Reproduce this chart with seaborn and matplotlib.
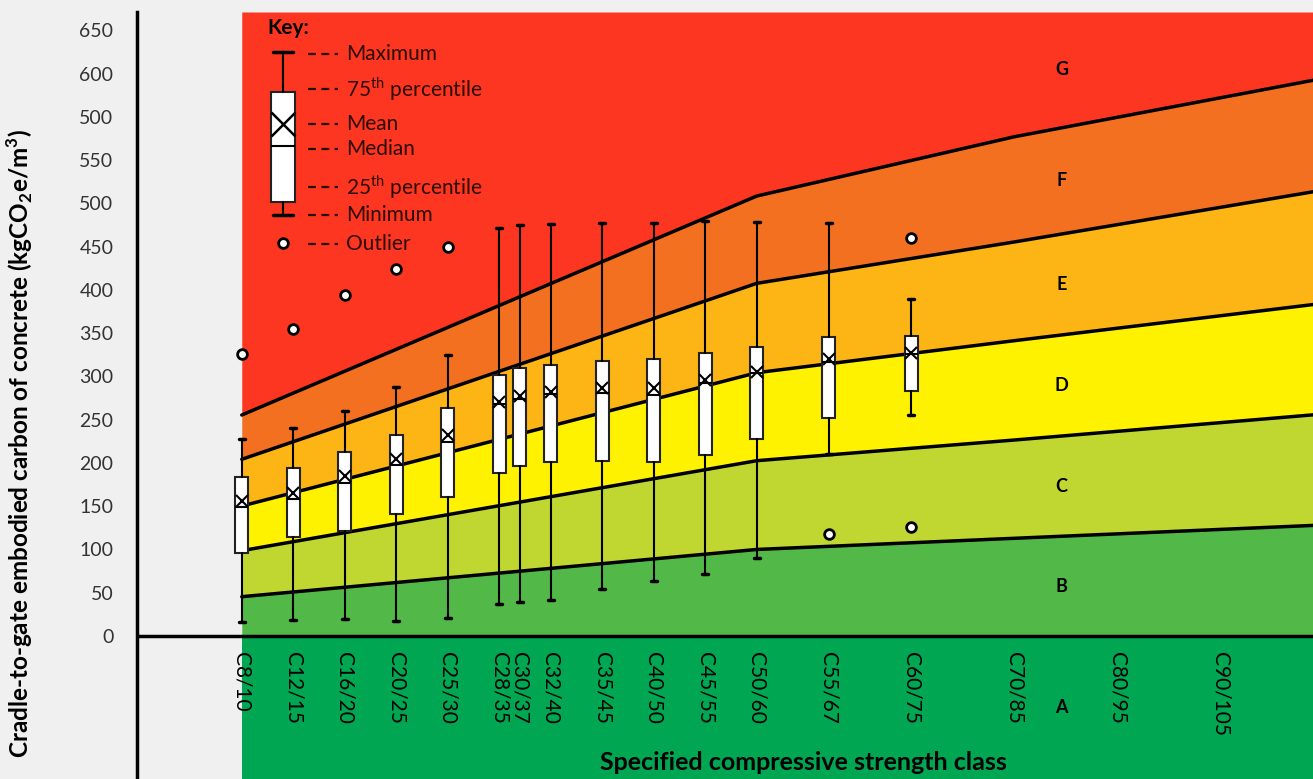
import numpy as np
import matplotlib.pyplot as plt
import seaborn as sns

# strength classes, x position taken from the cube strength
classes = ['C8/10', 'C12/15', 'C16/20', 'C20/25', 'C25/30', 'C28/35', 'C30/37',
           'C32/40', 'C35/45', 'C40/50', 'C45/55', 'C50/60', 'C55/67', 'C60/75',
           'C70/85', 'C80/95', 'C90/105', 'C100/115']
cube = [10, 15, 20, 25, 30, 35, 37, 40, 45, 50, 55, 60, 67, 75, 85, 95, 105, 115]

# box summaries (only first 14 classes have data)
whislo = [16.5, 18.5, 19.6, 17.3, 20.5, 37.0, 39.3, 41.6, 54.7, 63.6, 72.0, 89.8, 210.3, 255.1]
q1 = [96.3, 114.1, 121.3, 140.6, 161.0, 188.0, 196.5, 201.1, 202.6, 201.1, 209.2, 227.3, 251.9, 283.5]
med = [149.4, 158.0, 176.5, 197.6, 224.6, 268.1, 273.6, 279.7, 281.2, 278.2, 292.7, 303.6, 317.0, 325.9]
mean = [156.0, 164.9, 184.9, 204.2, 232.3, 270.8, 277.4, 282.3, 286.3, 286.3, 295.9, 305.5, 319.8, 327.4]
q3 = [183.4, 193.8, 213.0, 232.3, 263.2, 301.6, 309.4, 313.2, 318.2, 319.8, 327.4, 334.3, 345.9, 346.7]
whishi = [227.3, 240.4, 260.0, 288.1, 325.1, 471.9, 475.0, 476.1, 476.9, 476.9, 479.3, 478.5, 477.7, 389.1]
outliers = [[325.9], [355.1], [394.4], [424.1], [449.9], [], [], [], [], [], [], [],
            [117.5], [126.3, 459.6]]

# rating band boundaries
band_x = [10, 60, 85, 115]
bound_bc = [45.4, 100.0, 112.9, 128.3]
bound_cd = [98.6, 202.6, 226.5, 256.6]
bound_de = [150.2, 304.3, 341.3, 384.5]
bound_ef = [204.2, 407.6, 455.4, 515.4]
bound_fg = [255.4, 508.5, 577.0, 644.5]
bands = ['A', 'B', 'C', 'D', 'E', 'F', 'G']
band_colors = ['#00a651', '#52b848', '#bfd730', '#fff200', '#fdb515', '#f37021', '#fc3620']

y_ticks = np.arange(0, 701, 50)
y_labels = ['0', '50', '100', '150', '200', '250', '300', '350', '400', '450',
            '500', '550', '500', '600', '650']

# key (legend) box
key_stats = dict(whislo=486.5, q1=501.6, med=566.3, mean=591.7, q3=628.7,
                 whishi=675.0, fliers=[454.2])
key_labels = ['Maximum', '75$^{\\mathrm{th}}$ percentile', 'Mean', 'Median',
              '25$^{\\mathrm{th}}$ percentile', 'Minimum', 'Outlier']
key_label_y = [672.6, 632.2, 591.7, 562.9, 519.0, 486.6, 453.1]

sns.set_theme(style='white')
plt.rcParams['font.family'] = ['Lato', 'DejaVu Sans']
plt.rcParams['mathtext.fontset'] = 'custom'
plt.rcParams['mathtext.rm'] = 'Lato'
plt.rcParams['mathtext.bf'] = 'Lato:bold'

bg = '#f0f0f0'
fig = plt.figure(figsize=(13.13, 7.79), dpi=100, facecolor=bg)
ax = fig.add_axes([137 / 1313, 0, 1 - 137 / 1313, 1 - 12 / 779])
ax.set_facecolor(bg)
ylo, yhi = -165.3, 721.2
ax.set_xlim(-0.17, 114.0)
ax.set_ylim(ylo, yhi)

#bands
n = len(band_x)
lower = [np.full(n, ylo), np.zeros(n), bound_bc, bound_cd, bound_de, bound_ef, bound_fg]
upper = lower[1:] + [np.full(n, yhi)]
for lo, hi, col in zip(lower, upper, band_colors):
    ax.fill_between(band_x, lo, hi, color=col, lw=0, zorder=0)
for b in [bound_bc, bound_cd, bound_de, bound_ef, bound_fg]:
    sns.lineplot(x=band_x, y=b, color='black', lw=2.5, ax=ax, zorder=2)
ax.axhline(0, color='black', lw=2.5, zorder=2)

# band letters
xl = 89.6
for lo, hi, name in zip(lower, upper, bands):
    ym = (np.interp(xl, band_x, lo) + np.interp(xl, band_x, hi)) / 2
    ax.text(xl, ym, name, ha='center', va='center', fontsize=13,
            fontweight='bold', color='black', zorder=4)

#boxes
stats = [dict(whislo=a, q1=b, med=c, mean=d, q3=e, whishi=f, fliers=g)
         for a, b, c, d, e, f, g in zip(whislo, q1, med, mean, q3, whishi, outliers)]
common = dict(patch_artist=True, showmeans=True, manage_ticks=False,
              boxprops=dict(facecolor='white', edgecolor='#222222', lw=1.5),
              medianprops=dict(color='black', lw=1.5),
              whiskerprops=dict(color='black', lw=1.5),
              capprops=dict(color='black', lw=2.5),
              flierprops=dict(marker='o', markersize=7, mfc='white', mec='black', mew=2))
b1 = ax.bxp(stats, positions=cube[:len(stats)], widths=1.25, capwidths=0.6,
            meanprops=dict(marker='x', markersize=9, mec='black', mew=1.5), **common)
b2 = ax.bxp([key_stats], positions=[14.0], widths=2.3, capwidths=1.9,
            meanprops=dict(marker='x', markersize=17, mec='black', mew=1.8), **common)
for d in (b1, b2):
    for k in d.values():
        for a in k:
            a.set_zorder(3)

# key text
ax.text(12.5, 702.7, 'Key:', fontsize=15, fontweight='bold', color='black',
        ha='left', va='center')
for lab, yv in zip(key_labels, key_label_y):
    ax.plot([16.45, 19.35], [yv, yv], color='#2b0a04', lw=1.6,
            linestyle=(0, (3.6, 2.4)), solid_capstyle='butt')
    ax.text(20.1, yv, lab, fontsize=15, color='#2b0a04', ha='left', va='center')

# class labels inside the A band
for c, lab in zip(cube, classes):
    ax.text(c, -18, lab, rotation=270, ha='center', va='top', fontsize=15,
            color='black', zorder=4)

ax.set_xticks([])
ax.set_yticks(y_ticks)
ax.set_yticklabels(y_labels)
ax.tick_params(axis='y', length=0, pad=17, labelsize=14, labelcolor='#333333')
for s in ['top', 'right', 'bottom']:
    ax.spines[s].set_visible(False)
ax.spines['left'].set_color('black')
ax.spines['left'].set_linewidth(2.5)

ax.set_ylabel('Cradle-to-gate embodied carbon of concrete (kgCO$_\\mathbf{2}$e/m$^\\mathbf{3}$)',
              fontsize=17.5, fontweight='bold', color='black')
ax.yaxis.set_label_coords(-0.0867, 0.437)
fig.text(803 / 1313, 1 - 762 / 779, 'Specified compressive strength class',
         fontsize=18, fontweight='bold', color='black', ha='center', va='center')

fig.savefig('out.png', dpi=100, facecolor=bg)
